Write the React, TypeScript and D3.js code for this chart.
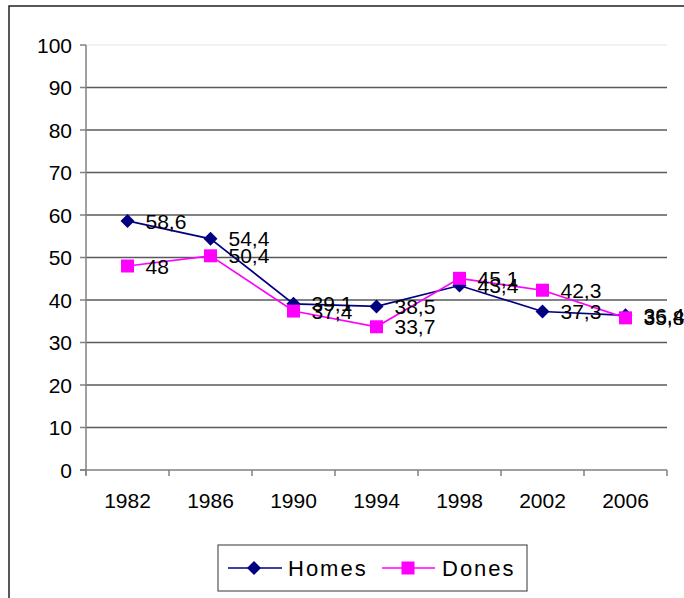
import * as d3 from "d3";

const years = ["1982", "1986", "1990", "1994", "1998", "2002", "2006"];
const homes = [58.6, 54.4, 39.1, 38.5, 43.4, 37.3, 36.4];
const dones = [48, 50.4, 37.4, 33.7, 45.1, 42.3, 35.8];
const yTicks = [0, 10, 20, 30, 40, 50, 60, 70, 80, 90, 100];

const W = 684;
const H = 598;
const plot = { left: 86, right: 667, top: 45, bottom: 470 };
const font = "'Liberation Sans', Arial, sans-serif";
const navy = "#000080";
const magenta = "#FF00FF";

const fmt = (v: number) => String(v).replace(".", ",");

function Diamond({ x, y, s = 7 }: { x: number; y: number; s?: number }) {
  return <path d={`M${x},${y - s}L${x + s},${y}L${x},${y + s}L${x - s},${y}Z`} fill={navy} />;
}

function Square({ x, y, s = 6.5 }: { x: number; y: number; s?: number }) {
  return <rect x={x - s} y={y - s} width={s * 2} height={s * 2} fill={magenta} />;
}

export default function App() {
  const x = d3.scaleBand().domain(years).range([plot.left, plot.right]);
  const y = d3.scaleLinear().domain([0, 100]).range([plot.bottom, plot.top]);
  const cx = (yr: string) => x(yr)! + x.bandwidth() / 2;

  const line = d3
    .line<number>()
    .x((_, i) => cx(years[i]))
    .y((d) => y(d));

  const boundaries = years.map((yr) => x(yr)!).concat([plot.right]);

  return (
    <div style={{ position: "fixed", left: 0, top: 0, width: W, height: H, background: "#fff" }}>
      <svg width={W} height={H} style={{ display: "block", fontFamily: font }}>
        {/* outer chart frame (cropped on right and bottom) */}
        <rect x={9} y={6} width={W + 20} height={H + 20} fill="#fff" stroke="#222" strokeWidth={1.5} />

        {/* gridlines */}
        {yTicks.filter((t) => t > 0).map((t) => (
          <line
            key={t}
            x1={plot.left}
            x2={plot.right}
            y1={y(t)}
            y2={y(t)}
            stroke={t === 100 ? "#e4e4e4" : "#5a5a5a"}
            strokeWidth={t === 100 ? 1 : 1.5}
          />
        ))}

        {/* y axis */}
        <line x1={plot.left} x2={plot.left} y1={plot.top} y2={plot.bottom + 5} stroke="#808080" strokeWidth={1.5} />
        {yTicks.map((t) => (
          <g key={t}>
            <line x1={plot.left - 6} x2={plot.left} y1={y(t)} y2={y(t)} stroke="#808080" strokeWidth={1.5} />
            <text x={72} y={y(t)} dy="0.36em" textAnchor="end" fontSize={21} fill="#000">
              {t}
            </text>
          </g>
        ))}

        {/* x axis */}
        <line x1={plot.left - 6} x2={plot.right} y1={plot.bottom} y2={plot.bottom} stroke="#808080" strokeWidth={1.5} />
        {boundaries.map((bx, i) => (
          <line key={i} x1={bx} x2={bx} y1={plot.bottom} y2={plot.bottom + 6} stroke="#808080" strokeWidth={1.5} />
        ))}
        {years.map((yr) => (
          <text key={yr} x={cx(yr)} y={500} dy="0.36em" textAnchor="middle" fontSize={21} fill="#000">
            {yr}
          </text>
        ))}

        {/* series lines */}
        <path d={line(homes)!} fill="none" stroke={navy} strokeWidth={1.7} />
        <path d={line(dones)!} fill="none" stroke={magenta} strokeWidth={1.7} />

        {/* markers */}
        {homes.map((v, i) => (
          <Diamond key={"h" + i} x={cx(years[i])} y={y(v)} />
        ))}
        {dones.map((v, i) => (
          <Square key={"d" + i} x={cx(years[i])} y={y(v)} />
        ))}

        {/* data labels */}
        {homes.map((v, i) => (
          <text key={"hl" + i} x={cx(years[i]) + 18} y={y(v)} dy="0.36em" fontSize={21} fill="#000">
            {fmt(v)}
          </text>
        ))}
        {dones.map((v, i) => (
          <text key={"dl" + i} x={cx(years[i]) + 18} y={y(v)} dy="0.36em" fontSize={21} fill="#000">
            {fmt(v)}
          </text>
        ))}

        {/* legend */}
        <rect x={218} y={545} width={309} height={46} fill="#fff" stroke="#555" strokeWidth={1.2} />
        <line x1={228} x2={282} y1={568} y2={568} stroke={navy} strokeWidth={1.7} />
        <Diamond x={254} y={568} />
        <text x={288} y={568} dy="0.36em" fontSize={22} letterSpacing={2} fill="#000">
          Homes
        </text>
        <line x1={382} x2={435} y1={568} y2={568} stroke={magenta} strokeWidth={1.7} />
        <Square x={408} y={568} />
        <text x={442} y={568} dy="0.36em" fontSize={22} letterSpacing={2} fill="#000">
          Dones
        </text>
      </svg>
    </div>
  );
}
